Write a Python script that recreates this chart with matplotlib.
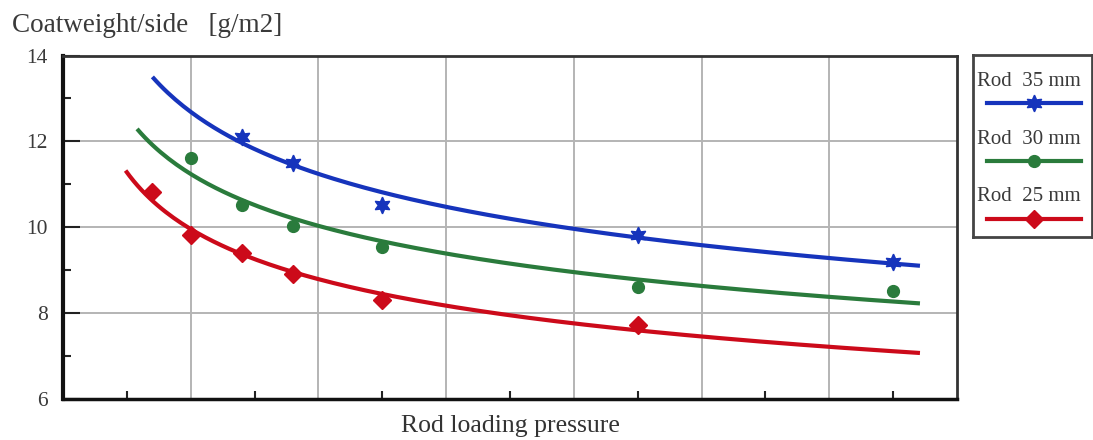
import numpy as np
import matplotlib
matplotlib.use("Agg")
import matplotlib.pyplot as plt
from matplotlib.ticker import MultipleLocator, FixedLocator, NullFormatter

plt.rcParams['font.family'] = ['Liberation Serif', 'DejaVu Serif']

# measured points (x in arbitrary pressure units, y = coatweight g/m2)
x_35 = [1.4, 1.8, 2.5, 4.5, 6.5]
y_35 = [12.11, 11.50, 10.52, 9.82, 9.20]
x_30 = [1.0, 1.4, 1.8, 2.5, 4.5, 6.5]
y_30 = [11.61, 10.52, 10.03, 9.53, 8.62, 8.52]
x_25 = [0.7, 1.0, 1.4, 1.8, 2.5, 4.5]
y_25 = [10.81, 9.82, 9.39, 8.91, 8.31, 7.72]

labels = ['Rod  35 mm', 'Rod  30 mm', 'Rod  25 mm']
colors = ['#1634bc', '#2a7b3c', '#cc0a1a']
markers = [(6, 1, 0), 'o', 'D']
msizes = [12, 8.5, 9.5]
# range covered by each trend curve
curve_start = [0.70, 0.58, 0.49]
curve_end = [6.71, 6.71, 6.71]

series = [(x_35, y_35), (x_30, y_30), (x_25, y_25)]

fig = plt.figure(figsize=(10.93, 4.40), dpi=100)
ax = fig.add_axes([63 / 1093, 1 - 399 / 440, 894 / 1093, 343.5 / 440])

for i, (xs, ys) in enumerate(series):
    # power trend line y = a * x^b fitted on the points
    b, a = np.polyfit(np.log(xs), np.log(ys), 1)
    xc = np.linspace(curve_start[i], curve_end[i], 200)
    ax.plot(xc, np.exp(a) * xc ** b, color=colors[i], lw=3, solid_capstyle='butt', zorder=3)
    ax.plot(xs, ys, ls='none', marker=markers[i], ms=msizes[i], color=colors[i],
            mec=colors[i], zorder=4)

ax.set_xlim(0, 7)
ax.set_ylim(6, 14)

# x axis: small inward ticks between the gridlines, no labels
ax.xaxis.set_major_locator(FixedLocator(np.arange(0.5, 7, 1.0)))
ax.xaxis.set_major_formatter(NullFormatter())
ax.xaxis.set_minor_locator(FixedLocator(np.arange(1, 7, 1.0)))
ax.tick_params(axis='x', which='major', direction='in', length=6, width=1.5, color='#222')
ax.tick_params(axis='x', which='minor', length=0)
ax.grid(True, axis='x', which='minor', color='#b4b4b4', lw=1.4)

ax.yaxis.set_major_locator(MultipleLocator(2))
ax.yaxis.set_minor_locator(MultipleLocator(1))
ax.tick_params(axis='y', which='major', direction='in', length=12, width=1.5,
               color='#222', labelsize=15.5, labelcolor='#3a3a3a', pad=11)
ax.tick_params(axis='y', which='minor', direction='in', length=6, width=1.5, color='#222')
ax.grid(True, axis='y', which='major', color='#b4b4b4', lw=1.4)
ax.set_axisbelow(True)

ax.spines['left'].set_linewidth(3)
ax.spines['left'].set_color('#111')
ax.spines['bottom'].set_linewidth(2.5)
ax.spines['bottom'].set_color('#111')
for s in ['top', 'right']:
    ax.spines[s].set_linewidth(2)
    ax.spines[s].set_color('#333')

ax.set_xlabel('Rod loading pressure', fontsize=18.5, color='#333', labelpad=8)
fig.text(12 / 1093, 1 - 26 / 440, 'Coatweight/side   [g/m2]', fontsize=19.5,
         color='#3a3a3a', va='center', ha='left')

# legend drawn in its own box at the right
lax = fig.add_axes([973 / 1093, 1 - 237 / 440, 119 / 1093, 182 / 440])
lax.set_xlim(0, 1)
lax.set_ylim(0, 1)
lax.set_xticks([])
lax.set_yticks([])
for s in lax.spines.values():
    s.set_linewidth(2)
    s.set_color('#444')
text_y = [0.852, 0.538, 0.22]
line_y = [0.736, 0.418, 0.099]
for i in range(3):
    lax.text(0.03, text_y[i], labels[i], fontsize=15, color='#3a3a3a', va='center', ha='left')
    lax.plot([0.118, 0.908], [line_y[i], line_y[i]], color=colors[i], lw=3)
    lax.plot([0.513], [line_y[i]], marker=markers[i], ms=msizes[i], color=colors[i], ls='none')

fig.savefig('out.png', dpi=100, facecolor='white')
